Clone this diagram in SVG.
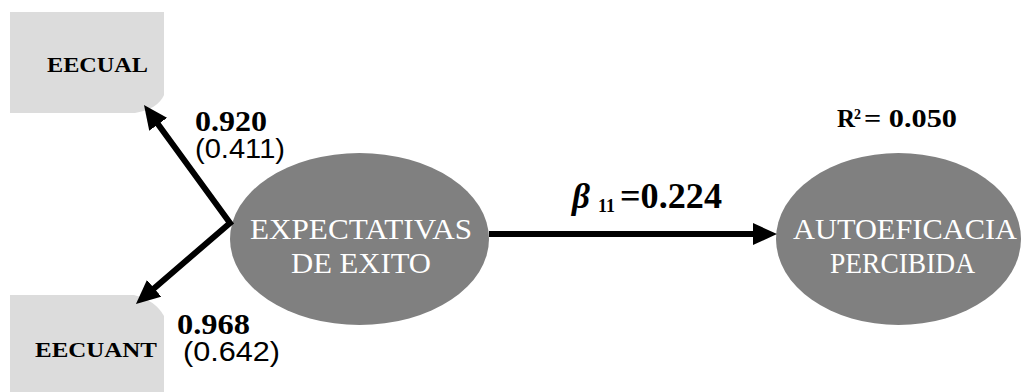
<svg xmlns="http://www.w3.org/2000/svg" width="1022" height="392" viewBox="0 0 1022 392">
<style>
.box{fill:#dcdcdc}
.lat{fill:#808080}
.bl{font-family:"Liberation Serif","Times New Roman",serif;font-weight:bold;fill:#000}
.lv{font-family:"Liberation Serif","Times New Roman",serif;font-size:30px;fill:#fff}
.num{font-family:"Liberation Serif","Times New Roman",serif;font-weight:bold;font-size:29px;fill:#000}
.se{font-family:"Liberation Sans",Arial,sans-serif;font-size:27px;fill:#000}
.conn{fill:none;stroke:#000;stroke-width:6;stroke-linejoin:miter;stroke-miterlimit:10}
</style>
<defs>
<marker id="ah" viewBox="0 0 24 22" refX="6" refY="11" markerWidth="24" markerHeight="22" markerUnits="userSpaceOnUse" orient="auto-start-reverse">
<path d="M0,0 L24,11 L0,22 Z" fill="#000"/>
</marker>
</defs>
<g id="EECUAL">
<path class="box" d="M10,12 H164 V95 Q158,109 135,113 H10 Z"/>
<text class="bl" x="47" y="72" font-size="22" textLength="101" lengthAdjust="spacingAndGlyphs">EECUAL</text>
</g>
<g id="EECUANT">
<path class="box" d="M10,295 H134 Q155,300 164,316 V392 H10 Z"/>
<text class="bl" x="35" y="357" font-size="22" textLength="122" lengthAdjust="spacingAndGlyphs">EECUANT</text>
</g>
<g id="EXPECTATIVAS">
<ellipse class="lat" cx="359.5" cy="239" rx="129.5" ry="86"/>
<text class="lv" x="250" y="239" textLength="222" lengthAdjust="spacingAndGlyphs">EXPECTATIVAS</text>
<text class="lv" x="291" y="273" textLength="140" lengthAdjust="spacingAndGlyphs">DE EXITO</text>
</g>
<g id="AUTOEFICACIA">
<ellipse class="lat" cx="898.5" cy="239" rx="122.5" ry="86"/>
<text class="lv" x="793" y="239" textLength="224" lengthAdjust="spacingAndGlyphs">AUTOEFICACIA</text>
<text class="lv" x="830" y="273" textLength="145" lengthAdjust="spacingAndGlyphs">PERCIBIDA</text>
<text class="bl" y="127" font-size="25"><tspan x="837">R</tspan><tspan x="854" y="119" font-size="14">2</tspan><tspan x="864" y="127" textLength="93" lengthAdjust="spacingAndGlyphs">= 0.050</tspan></text>
</g>
<g id="connectors">
<path class="conn" d="M154.6,119.5 L230,223 L149.6,292.2" marker-start="url(#ah)" marker-end="url(#ah)"/>
<path class="conn" d="M489,234 H759" marker-end="url(#ah)"/>
<text class="num" x="195" y="131" textLength="72" lengthAdjust="spacingAndGlyphs">0.920</text>
<text class="se" x="195" y="158" textLength="90" lengthAdjust="spacingAndGlyphs">(0.411)</text>
<text class="num" x="177" y="334" textLength="73" lengthAdjust="spacingAndGlyphs">0.968</text>
<text class="se" x="183" y="361" textLength="97" lengthAdjust="spacingAndGlyphs">(0.642)</text>
<text class="bl" y="208" font-size="35"><tspan x="572" font-style="italic">β</tspan><tspan x="598" y="212" font-size="18">11</tspan><tspan x="620" y="208" textLength="102" lengthAdjust="spacingAndGlyphs">=0.224</tspan></text>
</g>
</svg>
